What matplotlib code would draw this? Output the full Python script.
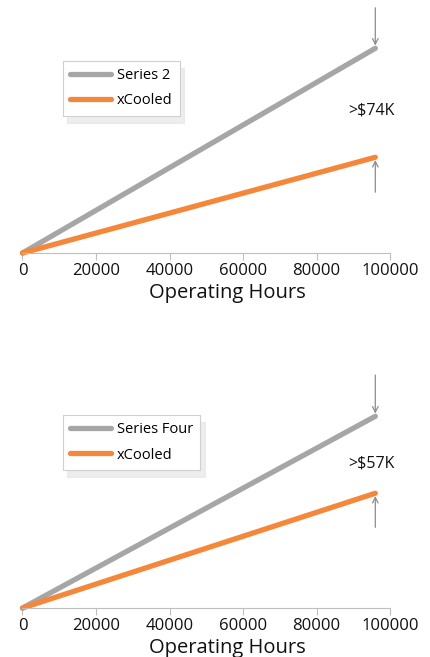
import matplotlib
matplotlib.use('Agg')
import matplotlib.pyplot as plt

plt.rcParams['font.family'] = ['Open Sans', 'DejaVu Sans']

hours = [0, 96000]
ticks = [0, 20000, 40000, 60000, 80000, 100000]

# values in $K
top_series = [0, 139]
top_xcooled = [0, 65]
top_label = 'Series 2'
top_note = '>$74K'

bot_series = [0, 142]
bot_xcooled = [0, 85]
bot_label = 'Series Four'
bot_note = '>$57K'

GRAY = '#A6A6A6'
ORANGE = '#F5873B'


def panel(ax, series, xcooled, label, note, ymax, arr_top, arr_bot, note_y, leg_y):
	ax.plot(hours, series, color=GRAY, lw=3.8, solid_capstyle='round', label=label, clip_on=False)
	ax.plot(hours, xcooled, color=ORANGE, lw=3.8, solid_capstyle='round', label='xCooled', clip_on=False)
	ax.set_xlim(0, 100000)
	ax.set_ylim(0, ymax)
	for s in ['top', 'right', 'left']:
		ax.spines[s].set_visible(False)
	ax.spines['bottom'].set_color('#BFBFBF')
	ax.set_yticks([])
	ax.set_xticks(ticks)
	ax.set_xticklabels([str(t) for t in ticks])
	ax.tick_params(axis='x', colors='#BFBFBF', length=5, labelsize=12, labelcolor='#111111', pad=2)
	ax.set_xlabel('Operating Hours', fontsize=14.5, color='#111111', labelpad=3, x=0.558)
	# arrows to the line ends
	ax.annotate('', xy=(hours[1], series[1]), xytext=(hours[1], arr_top),
		arrowprops=dict(arrowstyle='->', color='#8C8C8C', lw=0.9), annotation_clip=False)
	ax.annotate('', xy=(hours[1], xcooled[1]), xytext=(hours[1], arr_bot),
		arrowprops=dict(arrowstyle='->', color='#8C8C8C', lw=0.9), annotation_clip=False)
	ax.text(95000, note_y, note, ha='center', va='center', fontsize=11.5, color='#111111')
	leg = ax.legend(loc='upper left', bbox_to_anchor=(0.11, leg_y), borderaxespad=0, fontsize=10.5,
		handlelength=2.8, frameon=True, fancybox=False, borderpad=0.5, labelspacing=0.7,
		handletextpad=0.4, shadow={'color': '#E2E2E2', 'alpha': 0.6, 'ox': 3, 'oy': -5})
	leg.get_frame().set_edgecolor('#D0D0D0')
	leg.get_frame().set_linewidth(0.8)
	for ln in leg.get_lines():
		ln.set_linewidth(3.8)


fig = plt.figure(figsize=(4.31, 6.57), dpi=100)
ax1 = fig.add_axes([22.5 / 431, 1 - 253 / 657, 367.5 / 431, 253 / 657])
ax2 = fig.add_axes([22.5 / 431, 1 - 608 / 657, 367.5 / 431, 243 / 657])

panel(ax1, top_series, top_xcooled, top_label, top_note, 171.8, 168.4, 39.4, 97, 0.759)
panel(ax2, bot_series, bot_xcooled, bot_label, bot_note, 180, 174.6, 57.7, 107, 0.794)

fig.savefig('out.png', dpi=100)
